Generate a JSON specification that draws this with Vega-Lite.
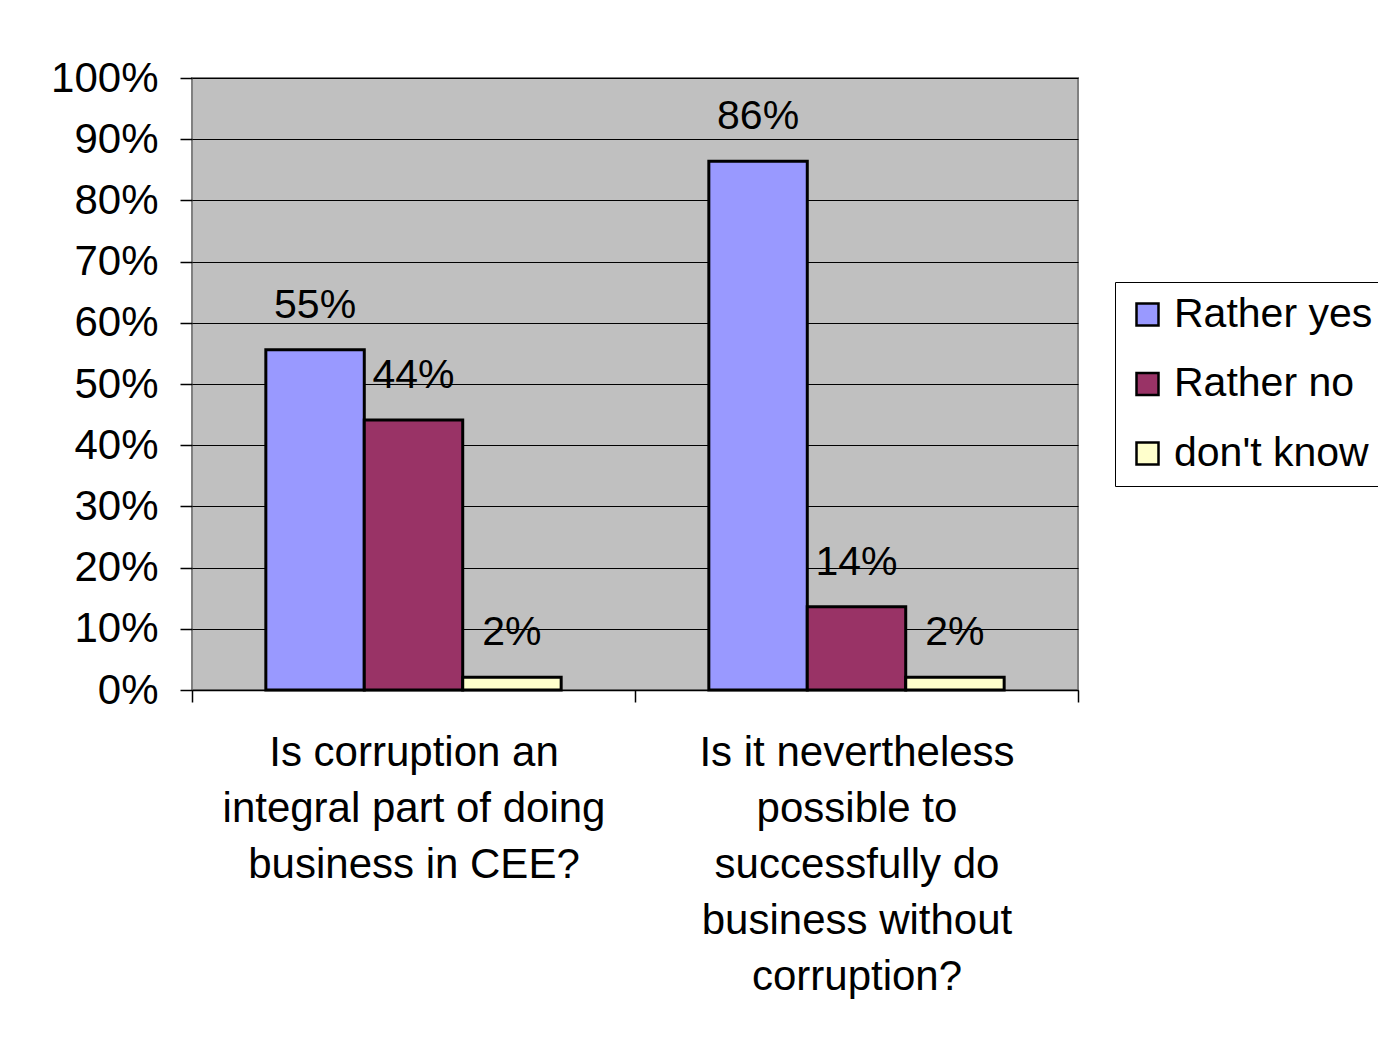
{
  "$schema": "https://vega.github.io/schema/vega-lite/v6.json",
  "autosize": "none",
  "width": 886,
  "height": 612,
  "padding": {"left": 192, "top": 78, "right": 300, "bottom": 353},
  "background": "white",
  "config": {
    "font": "Liberation Sans",
    "view": {"fill": "#C0C0C0", "stroke": "#808080", "strokeWidth": 2}
  },
  "data": {
    "values": [
      {"question": "Is corruption an|integral part of doing|business in CEE?", "answer": "Rather yes", "share": 0.556, "label": "55%"},
      {"question": "Is corruption an|integral part of doing|business in CEE?", "answer": "Rather no", "share": 0.441, "label": "44%"},
      {"question": "Is corruption an|integral part of doing|business in CEE?", "answer": "don't know", "share": 0.021, "label": "2%"},
      {"question": "Is it nevertheless|possible to|successfully do|business without|corruption?", "answer": "Rather yes", "share": 0.864, "label": "86%"},
      {"question": "Is it nevertheless|possible to|successfully do|business without|corruption?", "answer": "Rather no", "share": 0.136, "label": "14%"},
      {"question": "Is it nevertheless|possible to|successfully do|business without|corruption?", "answer": "don't know", "share": 0.021, "label": "2%"}
    ]
  },
  "encoding": {
    "x": {
      "field": "question", "type": "nominal", "sort": null, "title": null,
      "scale": {"paddingInner": 0, "paddingOuter": 0},
      "axis": {
        "labelAngle": 0, "labelExpr": "split(datum.label, '|')",
        "labelFontSize": 42, "labelLineHeight": 56, "labelColor": "#000",
        "labelBaseline": "top", "labelPadding": 30, "labelLimit": 0,
        "tickBand": "extent", "tickSize": 12, "tickColor": "#000", "tickWidth": 1.5,
        "domainColor": "#000", "domainWidth": 1.5
      }
    },
    "xOffset": {
      "field": "answer", "type": "nominal", "sort": ["Rather yes", "Rather no", "don't know"],
      "scale": {"paddingInner": 0, "paddingOuter": 0.75}
    },
    "y": {
      "field": "share", "type": "quantitative", "title": null,
      "scale": {"domain": [0, 1]},
      "axis": {
        "values": [0, 0.1, 0.2, 0.3, 0.4, 0.5, 0.6, 0.7, 0.8, 0.9, 1],
        "format": ".0%", "labelFontSize": 42, "labelColor": "#000",
        "labelPadding": 22, "tickSize": 12, "tickColor": "#000", "tickWidth": 1.5,
        "domain": false, "grid": true, "gridColor": "#000", "gridWidth": 1
      }
    }
  },
  "layer": [
    {
      "mark": {"type": "bar", "stroke": "#000", "strokeWidth": 3},
      "encoding": {
        "color": {
          "field": "answer", "type": "nominal", "sort": ["Rather yes", "Rather no", "don't know"],
          "scale": {"domain": ["Rather yes", "Rather no", "don't know"], "range": ["#9999FF", "#993366", "#FFFFCC"]},
          "legend": {
            "title": null, "orient": "none", "legendX": 923, "legendY": 204,
            "labelFontSize": 41, "labelColor": "#000", "labelOffset": 6,
            "symbolType": "square", "symbolSize": 484, "symbolStrokeColor": "#000",
            "symbolStrokeWidth": 2.5, "symbolOpacity": 1,
            "rowPadding": 27.5, "padding": 12, "strokeColor": "#000", "fillColor": "white",
            "labelLimit": 0
          }
        }
      }
    },
    {
      "mark": {"type": "text", "fontSize": 41, "color": "#000", "baseline": "alphabetic", "dy": -32},
      "encoding": {"text": {"field": "label"}}
    }
  ]
}
